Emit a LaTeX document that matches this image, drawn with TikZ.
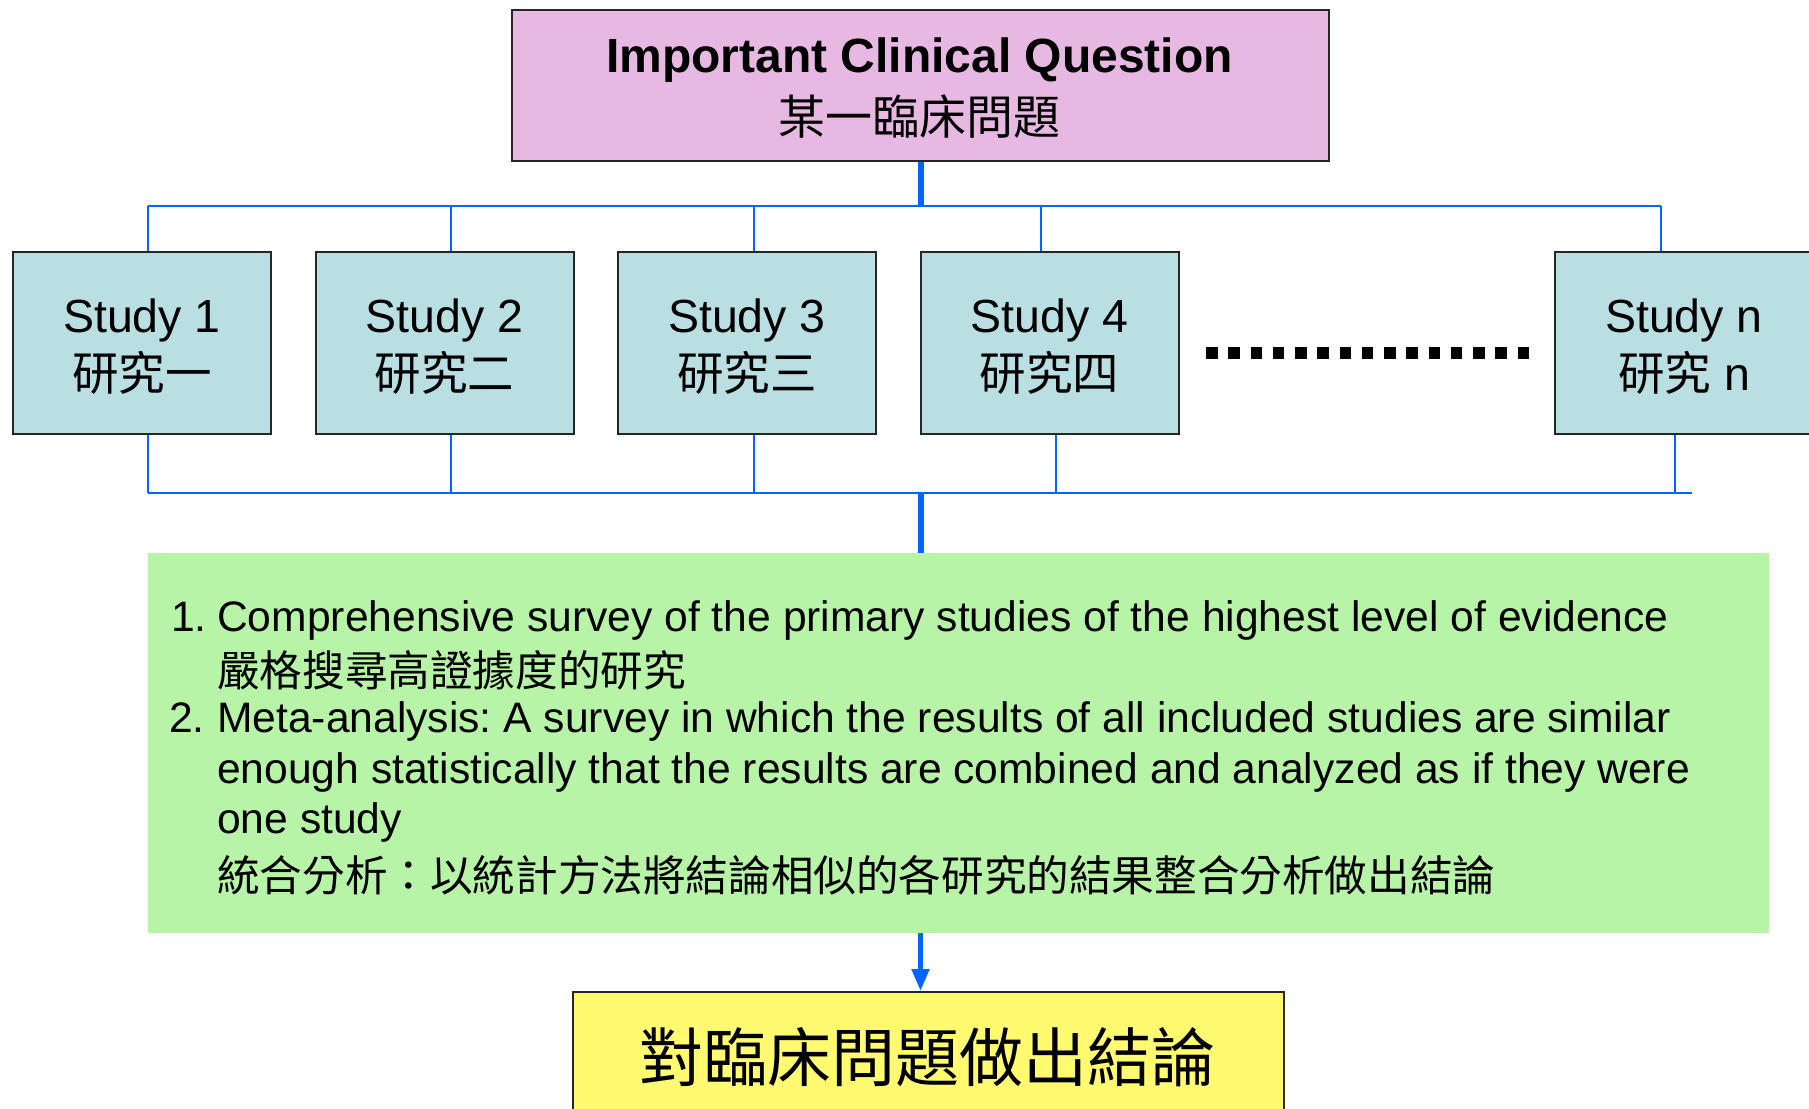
\documentclass[tikz,border=0pt]{standalone}
\usepackage{fontspec}
\setmainfont{Liberation Sans}
\newfontfamily\cjk{Noto Sans CJK TC}
\usetikzlibrary{arrows.meta}
\definecolor{qpink}{RGB}{230,184,226}
\definecolor{steal}{RGB}{185,223,226}
\definecolor{sgreen}{RGB}{184,244,168}
\definecolor{syellow}{RGB}{255,250,112}
\definecolor{lblue}{RGB}{0,102,255}
\frenchspacing
\begin{document}
\begin{tikzpicture}[x=1pt,y=-1pt,
  box/.style={draw=black!85, line width=2pt, inner sep=0pt, anchor=north west, rectangle},
  studybox/.style={box, fill=steal, minimum width=258pt, minimum height=182pt},
  txt/.style={inner sep=0pt, text=black},
  sfont/.style={txt, font=\fontsize{46.5}{50}\selectfont},
  gfont/.style={txt, font=\fontsize{42.6}{46}\selectfont},
  bus/.style={draw=lblue, line width=2pt},
  trunk/.style={draw=lblue, line width=6pt},
  dotrow/.style={line width=12pt, dash pattern=on 11.5pt off 10.75pt}
]
\useasboundingbox (0,0) rectangle (1809,1108);
\clip (0,0) rectangle (1809,1108);

% question box
\node[box, fill=qpink, minimum width=817pt, minimum height=151pt] (q) at (511,9) {};
\node[txt, anchor=base, font=\bfseries\fontsize{48}{50}\selectfont] (qt1) at (919.5,73) {Important Clinical Question};
\node[txt, anchor=center, font=\cjk\fontsize{47}{50}\selectfont] (qt2) at (919.5,117) {某一臨床問題};

% study boxes
\node[studybox] (s1) at (12,251) {};
\node[studybox] (s2) at (314.5,251) {};
\node[studybox] (s3) at (617,251) {};
\node[studybox] (s4) at (919.5,251) {};
\node[studybox] (sn) at (1554,251) {};

\node[sfont, anchor=base] (s1a) at (s1.center |- 0,332) {Study 1};
\node[sfont, anchor=center] (s1b) at (s1.center |- 0,373) {\cjk 研究一};
\node[sfont, anchor=base] (s2a) at (s2.center |- 0,332) {Study 2};
\node[sfont, anchor=center] (s2b) at (s2.center |- 0,373) {\cjk 研究二};
\node[sfont, anchor=base] (s3a) at (s3.center |- 0,332) {Study 3};
\node[sfont, anchor=center] (s3b) at (s3.center |- 0,373) {\cjk 研究三};
\node[sfont, anchor=base] (s4a) at (s4.center |- 0,332) {Study 4};
\node[sfont, anchor=center] (s4b) at (s4.center |- 0,373) {\cjk 研究四};
\node[sfont, anchor=base] (sna) at (sn.center |- 0,332) {Study n};
\node[sfont, anchor=center] (snb) at (sn.center |- 0,373) {{\cjk 研究} n};

% dotted ellipsis
\coordinate (d1) at (1206,352.5);
\coordinate (d2) at (1529,352.5);
\draw[dotrow] (d1) -- (d2);

% top connectors
\coordinate (t1) at (148,205.5);
\coordinate (t2) at (450.5,205.5);
\coordinate (t3) at (753.5,205.5);
\coordinate (t4) at (1040.5,205.5);
\coordinate (tn) at (1660.5,205.5);
\draw[bus] (t1) -- (tn);
\draw[bus] (t1) -- (t1 |- s1.north);
\draw[bus] (t2) -- (t2 |- s2.north);
\draw[bus] (t3) -- (t3 |- s3.north);
\draw[bus] (t4) -- (t4 |- s4.north);
\draw[bus] (tn) -- (tn |- sn.north);
\draw[trunk] (q.south) -- (q.south |- t1);

% bottom connectors
\coordinate (b1) at (148,492.5);
\coordinate (b2) at (450.5,492.5);
\coordinate (b3) at (753.5,492.5);
\coordinate (b4) at (1056,492.5);
\coordinate (bn) at (1675,492.5);
\coordinate (be) at (1692,492.5);
\draw[bus] (b1) -- (be);
\draw[bus] (b1 |- s1.south) -- (b1);
\draw[bus] (b2 |- s2.south) -- (b2);
\draw[bus] (b3 |- s3.south) -- (b3);
\draw[bus] (b4 |- s4.south) -- (b4);
\draw[bus] (bn |- sn.south) -- (bn);

% green box
\node[inner sep=0pt, anchor=north west, fill=sgreen, minimum width=1621pt, minimum height=380pt] (g) at (148,552.7) {};
\coordinate (h2) at (q.south |- b1);
\draw[trunk] (h2) -- (h2 |- g.north);

\node[gfont, anchor=base west] (n1) at (171,631) {1.};
\node[gfont, anchor=base west] (l1) at (217,631) {Comprehensive survey of the primary studies of the highest level of evidence};
\node[gfont, anchor=west] (c1) at (217,670) {\cjk 嚴格搜尋高證據度的研究};
\node[gfont, anchor=base west] (n2) at (169,732) {2.};
\node[gfont, anchor=base west] (l2) at (217,732) {Meta-analysis: A survey in which the results of all included studies are similar};
\node[gfont, anchor=base west] (l3) at (217,783) {enough statistically that the results are combined and analyzed as if they were};
\node[gfont, anchor=base west] (l4) at (217,833) {one study};
\node[gfont, anchor=west] (c2) at (217,875) {\cjk 統合分析：以統計方法將結論相似的各研究的結果整合分析做出結論};

% conclusion box
\node[box, fill=syellow, minimum width=711pt, minimum height=200pt] (c) at (572,991) {};
\node[txt, anchor=center, font=\cjk\fontsize{64}{68}\selectfont] (ct) at (927.5,1057) {對臨床問題做出結論};
\coordinate (a3) at (q.south |- g.south);
\draw[draw=lblue, line width=5pt, -{Triangle[width=17pt,length=22pt]}, lblue] (a3) -- (a3 |- c.north);
\end{tikzpicture}
\end{document}
